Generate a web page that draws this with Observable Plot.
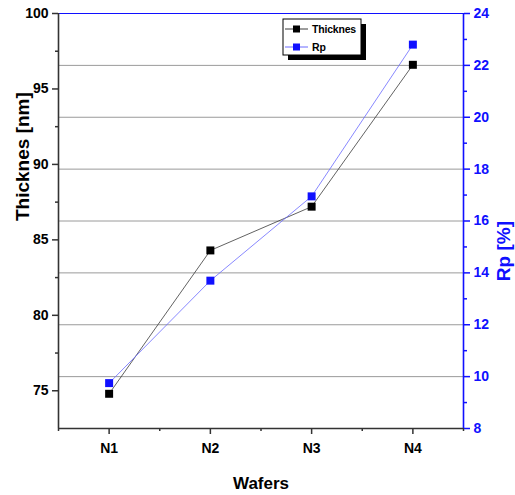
<!DOCTYPE html>
<html><head><meta charset="utf-8">
<script src="https://cdn.jsdelivr.net/npm/d3@7"></script>
<script src="https://cdn.jsdelivr.net/npm/@observablehq/plot@0.6"></script>
<style>body{margin:0;background:#fff} #chart{position:relative;width:515px;height:495px}</style>
</head><body><div id="chart"></div>
<script>
const wafers = ["N1","N2","N3","N4"];
const thickness = [74.8, 84.3, 87.2, 96.6];
const rp = [9.75, 13.7, 16.95, 22.8];
const thickTicks = [75,80,85,90,95,100];
const thickMinor = [77.5,82.5,87.5,92.5,97.5];
const rpTicks = [8,10,12,14,16,18,20,22,24];
const rpMinor = [9,11,13,15,17,19,21,23];
const xMinor = [0.5,1.5,2.5,3.5,4.5];

const yDom = [72.5,100], rpDom = [8,24], xDom = [0.5,4.5];
const toLeft = v => yDom[0] + (v - rpDom[0]) * (yDom[1]-yDom[0]) / (rpDom[1]-rpDom[0]);
const data = wafers.map((w,i) => ({w, x:i+1, t:thickness[i], r:toLeft(rp[i])}));
const BLUE = "#1010ff";
const FONT = "'Liberation Sans', Arial, sans-serif";

const chart = Plot.plot({
  width: 515, height: 495,
  marginLeft: 58, marginRight: 52, marginTop: 13, marginBottom: 67,
  style: {fontFamily: FONT, fontSize: "14px", fontWeight: "bold", background: "#fff", color: "#000"},
  x: {domain: xDom, axis: null},
  y: {domain: yDom, axis: null},
  marks: [
    Plot.ruleY(rpTicks.slice(1,-1).map(toLeft), {stroke:"#9a9a9a", strokeWidth:1}),
    Plot.ruleY([yDom[1]], {stroke: BLUE, strokeWidth:1.2}),
    // bottom x axis
    Plot.axisX(data.map(d=>d.x), {tickSize:6, tickFormat: (d)=>wafers[d-1], tickPadding:9, stroke:"#333", strokeWidth:1.5, fontSize:14, label:null}),
    Plot.axisX(xMinor, {tickSize:3, tickFormat: ()=>"", stroke:"#333", strokeWidth:1.5, label:null}),
    // left axis
    Plot.axisY(thickTicks, {anchor:"left", tickSize:6, tickPadding:4, stroke:"#333", strokeWidth:1.5, fontSize:14, label:null}),
    Plot.axisY(thickMinor, {anchor:"left", tickSize:3, tickFormat: ()=>"", stroke:"#333", strokeWidth:1.5, label:null}),
    // right axis
    Plot.axisY(rpTicks.map(toLeft), {anchor:"right", tickSize:6, tickPadding:4, stroke:BLUE, fill:BLUE, strokeWidth:1.5, fontSize:14, label:null,
      tickFormat: (v) => String(Math.round(rpDom[0] + (v - yDom[0]) * (rpDom[1]-rpDom[0]) / (yDom[1]-yDom[0])))}),
    Plot.axisY(rpMinor.map(toLeft), {anchor:"right", tickSize:3, tickFormat: ()=>"", stroke:BLUE, strokeWidth:1.5, label:null}),
    Plot.ruleX([xDom[0]], {stroke:"#333", strokeWidth:1.6}),
    Plot.ruleY([yDom[0]], {stroke:"#333", strokeWidth:1.6}),
    Plot.ruleX([xDom[1]], {stroke:BLUE, strokeWidth:1.6}),
    // series
    Plot.lineY(data, {x:"x", y:"t", stroke:"#3a3a3a", strokeWidth:0.8}),
    Plot.lineY(data, {x:"x", y:"r", stroke:"#6a6aff", strokeWidth:0.8}),
    Plot.dot(data, {x:"x", y:"t", symbol:"square", fill:"#000", stroke:"none", r:4.5}),
    Plot.dot(data, {x:"x", y:"r", symbol:"square", fill:BLUE, stroke:"none", r:4.5}),
    // axis titles
    Plot.text(["Thicknes [nm]"], {frameAnchor:"left", dx:-36, dy:0, rotate:-90, fontSize:19, fontWeight:"bold", fill:"#000"}),
    Plot.text(["Rp [%]"], {frameAnchor:"right", dx:40, dy:0, rotate:-90, fontSize:19, fontWeight:"bold", fill:BLUE}),
    Plot.text(["Wafers"], {frameAnchor:"bottom", dy:60, fontSize:17, fontWeight:"bold", fill:"#000"})
  ]
});
document.getElementById("chart").appendChild(chart);

// legend
const svg = d3.select(chart);
const lg = svg.append("g").attr("font-family", FONT).attr("font-weight","bold").attr("font-size", 11).attr("text-anchor","start");
const lx = 283, ly = 19, lw = 78, lh = 36;
lg.append("rect").attr("x", lx+5).attr("y", ly+5).attr("width", lw).attr("height", lh).attr("fill", "#000");
lg.append("rect").attr("x", lx).attr("y", ly).attr("width", lw).attr("height", lh).attr("fill", "#fff").attr("stroke", "#000").attr("stroke-width", 1);
const entries = [{name:"Thicknes", line:"#3a3a3a", fill:"#000"}, {name:"Rp", line:"#6a6aff", fill:BLUE}];
entries.forEach((e,i) => {
  const yy = ly + 10 + i*18;
  lg.append("line").attr("x1", lx+2).attr("x2", lx+25).attr("y1", yy).attr("y2", yy).attr("stroke", e.line).attr("stroke-width", 1);
  lg.append("rect").attr("x", lx+10).attr("y", yy-3.5).attr("width", 7).attr("height", 7).attr("fill", e.fill);
  lg.append("text").attr("x", lx+29).attr("y", yy+4).attr("fill", "#000").style("font-size","10.5px").style("letter-spacing","-0.2px").text(e.name);
});
</script>
</body></html>
